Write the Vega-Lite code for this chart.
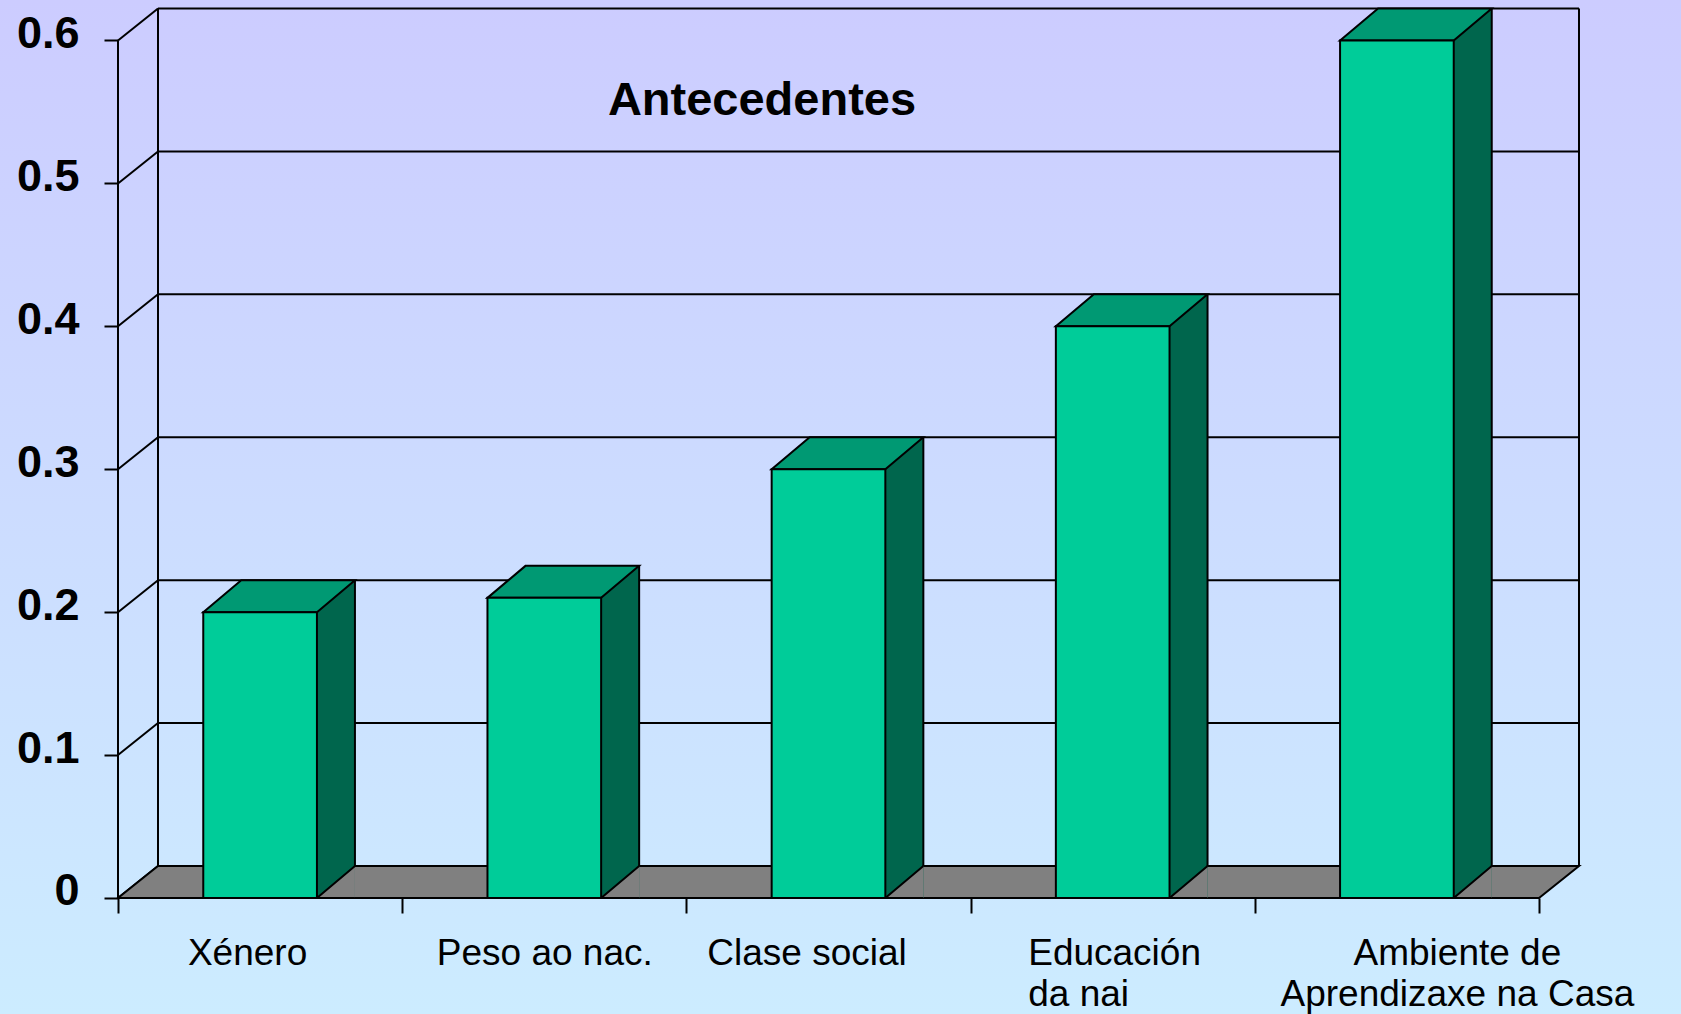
{
  "$schema": "https://vega.github.io/schema/vega-lite/v6.json",
  "width": 1681,
  "height": 1014,
  "padding": 0,
  "autosize": {"type": "none"},
  "config": {"view": {"stroke": null}},
  "datasets": {
    "bars": [
      {"factor": "Xénero", "value": 0.2},
      {"factor": "Peso ao nac.", "value": 0.21},
      {"factor": "Clase social", "value": 0.3},
      {"factor": "Educación da nai", "value": 0.4},
      {"factor": "Ambiente de Aprendizaxe na Casa", "value": 0.6}
    ],
    "ticks": [{"v": 0}, {"v": 0.1}, {"v": 0.2}, {"v": 0.3}, {"v": 0.4}, {"v": 0.5}, {"v": 0.6}]
  },
  "layer": [
    {
      "data": {"values": [{}]},
      "mark": {"type": "rect", "stroke": null, "fill": {"gradient": "linear", "x1": 0, "y1": 0, "x2": 0, "y2": 1, "stops": [{"offset": 0, "color": "#CCCCFF"}, {"offset": 1, "color": "#CCECFF"}]}},
      "encoding": {}
    },
    {
      "data": {"name": "ticks"},
      "mark": {"type": "rule", "color": "black", "strokeWidth": 2, "xOffset": 40, "x2Offset": 40, "yOffset": -32},
      "encoding": {
        "x": {"datum": "Xénero", "type": "nominal", "bandPosition": 0, "scale": {"type": "band", "domain": ["Xénero", "Peso ao nac.", "Clase social", "Educación da nai", "Ambiente de Aprendizaxe na Casa"], "paddingInner": 0, "paddingOuter": 0.45743, "align": 0.45385}},
        "x2": {"datum": "Ambiente de Aprendizaxe na Casa", "bandPosition": 1},
        "y": {"field": "v", "type": "quantitative", "scale": {"domain": [-0.081166, 0.62833], "nice": false, "zero": false}}
      }
    },
    {
      "data": {"name": "ticks"},
      "mark": {"type": "rule", "color": "black", "strokeWidth": 2, "x2Offset": 40, "y2Offset": -32},
      "encoding": {
        "x": {"datum": "Xénero", "type": "nominal", "bandPosition": 0},
        "x2": {"datum": "Xénero", "bandPosition": 0},
        "y": {"field": "v", "type": "quantitative"},
        "y2": {"field": "v"}
      }
    },
    {
      "data": {"values": [{}]},
      "mark": {"type": "rule", "color": "black", "strokeWidth": 2, "xOffset": 40, "yOffset": -32, "y2Offset": -32},
      "encoding": {
        "x": {"datum": "Xénero", "type": "nominal", "bandPosition": 0},
        "y": {"datum": 0, "type": "quantitative"},
        "y2": {"datum": 0.6}
      }
    },
    {
      "data": {"values": [{}]},
      "mark": {"type": "rule", "color": "black", "strokeWidth": 2, "xOffset": 40, "yOffset": -32, "y2Offset": -32},
      "encoding": {
        "x": {"datum": "Ambiente de Aprendizaxe na Casa", "type": "nominal", "bandPosition": 1},
        "y": {"datum": 0, "type": "quantitative"},
        "y2": {"datum": 0.6}
      }
    },
    {
      "data": {"values": [{}]},
      "mark": {"type": "rule", "color": "black", "strokeWidth": 2},
      "encoding": {
        "x": {"datum": "Xénero", "type": "nominal", "bandPosition": 0},
        "y": {"datum": 0, "type": "quantitative"},
        "y2": {"datum": 0.6}
      }
    },
    {
      "data": {"values": [{}]},
      "mark": {"type": "point", "shape": "M0,0 L1421,0 L1461,-32 L40,-32 Z", "size": 4, "filled": true, "fill": "#808080", "stroke": "black", "strokeWidth": 2, "opacity": 1},
      "encoding": {
        "x": {"datum": "Xénero", "type": "nominal", "bandPosition": 0},
        "y": {"datum": 0, "type": "quantitative"}
      }
    },
    {
      "data": {"name": "bars"},
      "mark": {"type": "bar", "fill": "#00664D", "stroke": null, "width": 38, "xOffset": 75.84, "yOffset": -32},
      "encoding": {
        "x": {"field": "factor", "type": "nominal"},
        "y": {"field": "value", "type": "quantitative"},
        "y2": {"datum": 0}
      }
    },
    {
      "data": {"name": "bars"},
      "mark": {"type": "point", "shape": "M38,-32 L0,0 L38,0", "size": 4, "filled": true, "fill": "#808080", "stroke": "black", "strokeWidth": 2, "opacity": 1, "xOffset": 56.84},
      "encoding": {
        "x": {"field": "factor", "type": "nominal"},
        "y": {"datum": 0, "type": "quantitative"}
      }
    },
    {
      "data": {"name": "bars"},
      "mark": {"type": "rule", "color": "black", "strokeWidth": 2, "xOffset": 94.84, "yOffset": -32, "y2Offset": -32},
      "encoding": {
        "x": {"field": "factor", "type": "nominal"},
        "y": {"field": "value", "type": "quantitative"},
        "y2": {"datum": 0}
      }
    },
    {
      "data": {"name": "bars"},
      "mark": {"type": "point", "shape": "M-56.84,0 L56.84,0 L94.84,-32 L-18.84,-32 Z", "size": 4, "filled": true, "fill": "#009973", "stroke": "black", "strokeWidth": 2, "opacity": 1},
      "encoding": {
        "x": {"field": "factor", "type": "nominal"},
        "y": {"field": "value", "type": "quantitative"}
      }
    },
    {
      "data": {"name": "bars"},
      "mark": {"type": "bar", "fill": "#00CC99", "stroke": "black", "strokeWidth": 2, "width": {"band": 0.4}},
      "encoding": {
        "x": {
          "field": "factor", "type": "nominal",
          "axis": {
            "title": null, "orient": "bottom", "offset": -116, "zindex": 2, "domain": false, "grid": false,
            "tickBand": "extent", "tickSize": 15, "tickWidth": 2, "tickColor": "black",
            "labelAngle": 0, "labelFont": "Liberation Sans", "labelFontSize": 37, "labelColor": "black",
            "labelAlign": {"condition": {"test": "datum.value == 'Educación da nai'", "value": "left"}, "value": "center"},
            "labelOffset": {"condition": [
              {"test": "datum.value == 'Xénero'", "value": -13},
              {"test": "datum.value == 'Clase social'", "value": -22},
              {"test": "datum.value == 'Educación da nai'", "value": -85},
              {"test": "datum.value == 'Ambiente de Aprendizaxe na Casa'", "value": 60}
            ], "value": 0},
            "labelBaseline": "alphabetic", "labelPadding": 51, "labelLineHeight": 41, "labelLimit": 0,
            "labelExpr": "datum.label == 'Educación da nai' ? ['Educación', 'da nai'] : datum.label == 'Ambiente de Aprendizaxe na Casa' ? ['Ambiente de', 'Aprendizaxe na Casa'] : datum.label"
          }
        },
        "y": {
          "field": "value", "type": "quantitative",
          "axis": {"title": null, "orient": "left", "offset": -118, "zindex": 2, "domain": false, "grid": false, "values": [0, 0.1, 0.2, 0.3, 0.4, 0.5, 0.6], "format": ".1~f", "tickSize": 14, "tickWidth": 2, "tickColor": "black", "labelFont": "Liberation Sans", "labelFontSize": 45, "labelFontWeight": "bold", "labelColor": "black", "labelPadding": 25, "labelBaseline": "alphabetic", "labelOffset": 7}
        },
        "y2": {"datum": 0}
      }
    },
    {
      "data": {"values": [{}]},
      "mark": {"type": "text", "text": "Antecedentes", "font": "Liberation Sans", "fontSize": 47, "fontWeight": "bold", "color": "black", "align": "center", "baseline": "alphabetic", "dx": -66.5, "dy": 74.5},
      "encoding": {
        "x": {"datum": "Clase social", "type": "nominal"},
        "y": {"datum": 0.6, "type": "quantitative"}
      }
    }
  ]
}
